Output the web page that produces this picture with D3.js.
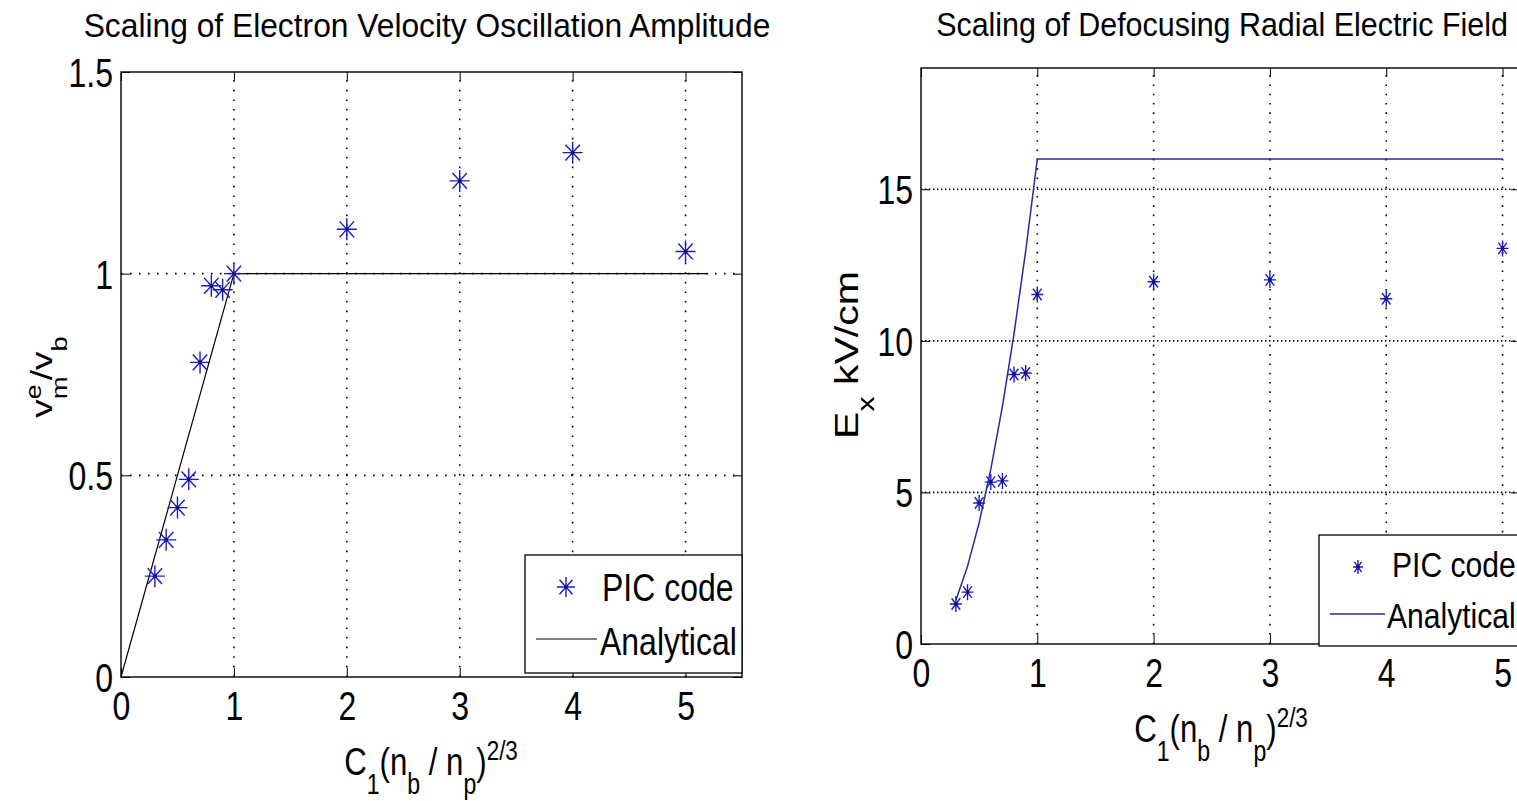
<!DOCTYPE html>
<html><head><meta charset="utf-8">
<script src="https://cdn.jsdelivr.net/npm/d3@7"></script>
<style>html,body{margin:0;padding:0;background:#fff;overflow:hidden}</style>
</head><body>
<svg id="c" width="1517" height="801"></svg>
<script>
// ---------------- data ----------------
const xTicks = [0, 1, 2, 3, 4, 5];
const xTickLabels = ["0", "1", "2", "3", "4", "5"];

const leftYTicks = [0, 0.5, 1, 1.5];
const leftYTickLabels = ["0", "0.5", "1", "1.5"];
const leftPicX = [0.3, 0.4, 0.5, 0.6, 0.7, 0.8, 0.9, 1, 2, 3, 4, 5];
const leftPicY = [0.25, 0.34, 0.42, 0.49, 0.78, 0.97, 0.96, 1.0, 1.11, 1.23, 1.30, 1.055];
const leftAnaX = [0, 1, 5.2];
const leftAnaY = [0, 1, 1];

const rightYTicks = [0, 5, 10, 15];
const rightYTickLabels = ["0", "5", "10", "15"];
const rightPicX = [0.3, 0.4, 0.5, 0.6, 0.7, 0.8, 0.9, 1, 2, 3, 4, 5];
const rightPicY = [1.32, 1.71, 4.65, 5.34, 5.38, 8.89, 8.94, 11.53, 11.95, 12.01, 11.39, 13.05];
const rightAnaX = [0.3, 0.4, 0.5, 0.6, 0.7, 0.8, 0.9, 1, 2, 3, 4, 5];
const rightAnaY = [1.44, 2.56, 4.0, 5.76, 7.84, 10.24, 12.96, 16, 16, 16, 16, 16];

const legendLabels = ["PIC code", "Analytical"];
const titles = ["Scaling of Electron Velocity Oscillation Amplitude", "Scaling of Defocusing Radial Electric Field"];

// ---------------- drawing ----------------
const FONT = "'Liberation Sans', Arial, Helvetica, sans-serif";
const svg = d3.select("#c");
const MARK = "#1c1cbc";

function measure(str, size) {
  const t = svg.append("text").attr("font-family", FONT).attr("font-size", size).text(str);
  const w = t.node().getComputedTextLength();
  t.remove();
  return w;
}

// parts: {t, sub, sup, stack, dx}
function richText(parent, x, y, size, sx, anchor, rotate, parts) {
  const g = parent.append("g")
    .attr("transform", `translate(${x},${y}) scale(${sx},1)` + (rotate ? " rotate(-90)" : ""));
  const t = g.append("text").attr("font-family", FONT).attr("font-size", size)
    .attr("text-anchor", anchor).attr("fill", "#000");
  let cur = 0;
  let back = 0;
  parts.forEach(p => {
    let off = 0, fs = size;
    if (p.sub) { off = 0.49 * size; fs = size * 0.74; }
    if (p.sup) { off = -0.38 * size; fs = size * 0.72; }
    const ts = t.append("tspan").attr("font-size", fs).attr("dy", off - cur).text(p.t);
    const dx = (p.dx || 0) - back;
    if (dx) ts.attr("dx", dx);
    back = p.stack ? measure(p.t, fs) : 0;
    cur = off;
  });
  return g;
}

function star(g, cx, cy, rx, ry) {
  const d = 0.72;
  g.append("path")
    .attr("d", `M${cx - rx},${cy}H${cx + rx}M${cx},${cy - ry}V${cy + ry}` +
      `M${cx - rx * d},${cy - ry * d}L${cx + rx * d},${cy + ry * d}` +
      `M${cx - rx * d},${cy + ry * d}L${cx + rx * d},${cy - ry * d}`)
    .attr("stroke", MARK).attr("stroke-width", 1.4).attr("fill", "none");
  g.append("circle").attr("cx", cx).attr("cy", cy).attr("r", 1.8).attr("fill", "#10108a");
}

function panel(p) {
  const x = d3.scaleLinear().domain(p.xDomain).range([p.left, p.right]);
  const y = d3.scaleLinear().domain(p.yDomain).range([p.bottom, p.top]);
  const g = svg.append("g");

  // grid
  g.selectAll(null).data(xTicks.filter(d => d > p.xDomain[0] && d < p.xDomain[1])).join("line")
    .attr("x1", d => x(d)).attr("x2", d => x(d)).attr("y1", p.bottom).attr("y2", p.top)
    .attr("stroke", "#000").attr("stroke-width", 1.6).attr("stroke-dasharray", p.vDash);
  g.selectAll(null).data(p.yTicks.filter(d => d > p.yDomain[0] && d < p.yDomain[1])).join("line")
    .attr("x1", p.left).attr("x2", p.right).attr("y1", d => y(d)).attr("y2", d => y(d))
    .attr("stroke", "#000").attr("stroke-width", 1.6).attr("stroke-dasharray", p.hDash);

  // analytical line
  const line = d3.line().x(d => x(d[0])).y(d => y(d[1]));
  g.append("path").datum(d3.zip(p.anaX, p.anaY)).attr("d", line)
    .attr("fill", "none").attr("stroke", p.lineColor).attr("stroke-width", p.lineWidth);

  // PIC markers
  d3.zip(p.picX, p.picY).forEach(d => star(g, x(d[0]), y(d[1]), p.mrx, p.mry));

  // box
  g.append("rect").attr("x", p.left).attr("y", p.top)
    .attr("width", p.right - p.left).attr("height", p.bottom - p.top)
    .attr("fill", "none").attr("stroke", "#000").attr("stroke-width", 1.4);

  const TL = 9, TF = 40, SX = 0.8;
  // bottom axis with labels
  const ax = g.append("g").attr("transform", `translate(0,${p.bottom})`)
    .call(d3.axisBottom(x).tickValues(xTicks).tickSize(-TL).tickFormat((d, i) => xTickLabels[i]));
  ax.select(".domain").remove();
  ax.attr("font-family", FONT).attr("font-size", TF).attr("color", "#000");
  ax.selectAll(".tick text").attr("y", 43).attr("dy", 0).attr("transform", `scale(${SX},1)`);
  // top ticks
  const at = g.append("g").attr("transform", `translate(0,${p.top})`)
    .call(d3.axisTop(x).tickValues(xTicks).tickSize(-TL).tickFormat(""));
  at.select(".domain").remove(); at.attr("color", "#000");
  // left axis with labels
  const al = g.append("g").attr("transform", `translate(${p.left},0)`)
    .call(d3.axisLeft(y).tickValues(p.yTicks).tickSize(-TL).tickFormat((d, i) => p.yTickLabels[i]));
  al.select(".domain").remove();
  al.attr("font-family", FONT).attr("font-size", TF).attr("color", "#000");
  al.selectAll(".tick text").attr("x", -8 / SX).attr("dy", 0).attr("y", 14.5).attr("transform", `scale(${SX},1)`);
  // right ticks
  const ar = g.append("g").attr("transform", `translate(${p.right},0)`)
    .call(d3.axisRight(y).tickValues(p.yTicks).tickSize(-TL).tickFormat(""));
  ar.select(".domain").remove(); ar.attr("color", "#000");

  // title (scaled to its measured width in the reference)
  const TS = 33;
  const natural = measure(p.title, TS);
  svg.append("g").attr("transform", `translate(${p.titleX},${p.titleY}) scale(${p.titleLen / natural},1)`)
    .append("text").attr("text-anchor", "middle")
    .attr("font-family", FONT).attr("font-size", TS).text(p.title);

  // x label
  richText(svg, p.xlabelX, p.bottom + 98, 39, 0.8, "middle", false, [
    { t: "C" }, { t: "1", sub: true }, { t: "(n" }, { t: "b", sub: true },
    { t: " / n" }, { t: "p", sub: true }, { t: ")" }, { t: "2/3", sup: true }]);
  // y label
  richText(svg, p.ylabelX, p.ylabelY, p.ylabelSize, 0.8, "middle", true, p.ylabelParts);

  // legend
  const L = p.legend;
  const lg = svg.append("g");
  lg.append("rect").attr("x", L.x).attr("y", L.y).attr("width", L.w).attr("height", L.h)
    .attr("fill", "#fff").attr("stroke", "#000").attr("stroke-width", 1.3);
  star(lg, L.mx, L.my, L.mrx, L.mry);
  lg.append("line").attr("x1", L.l1).attr("x2", L.l2).attr("y1", L.ly).attr("y2", L.ly)
    .attr("stroke", p.lineColor).attr("stroke-width", p.lineWidth);
  [[L.t1x, L.t1y, legendLabels[0]], [L.t2x, L.t2y, legendLabels[1]]].forEach(a => {
    lg.append("g").attr("transform", `translate(${a[0]},${a[1]}) scale(${L.sx},1)`)
      .append("text").attr("font-family", FONT).attr("font-size", L.fs).text(a[2]);
  });
}

panel({
  left: 121, right: 742, top: 72, bottom: 677,
  xDomain: [0, 5.5], yDomain: [0, 1.5],
  yTicks: leftYTicks, yTickLabels: leftYTickLabels,
  picX: leftPicX, picY: leftPicY, anaX: leftAnaX, anaY: leftAnaY,
  lineColor: "#000", lineWidth: 1.2, mrx: 10, mry: 11,
  vDash: "1.6,8", hDash: "1.6,7.4",
  title: titles[0], titleX: 427, titleY: 37, titleLen: 687,
  xlabelX: 431, ylabelX: 52, ylabelY: 377, ylabelSize: 37,
  ylabelParts: [{ t: "v" }, { t: "e", sup: true, stack: true }, { t: "m", sub: true }, { t: "/v", dx: -4 }, { t: "b", sub: true }],
  legend: { x: 525, y: 555, w: 217, h: 118, mx: 566, my: 587, mrx: 9, mry: 10,
    l1: 536, l2: 597, ly: 639, t1x: 602, t1y: 601, t2x: 600, t2y: 655, fs: 39, sx: 0.82 }
});

panel({
  left: 921, right: 1520, top: 68, bottom: 644,
  xDomain: [0, 5.15], yDomain: [0, 19],
  yTicks: rightYTicks, yTickLabels: rightYTickLabels,
  picX: rightPicX, picY: rightPicY, anaX: rightAnaX, anaY: rightAnaY,
  lineColor: "#2a2a9c", lineWidth: 1.5, mrx: 6, mry: 8,
  vDash: "1.6,7.7", hDash: "1.4,2.6",
  title: titles[1], titleX: 1222, titleY: 36, titleLen: 572,
  xlabelX: 1221, ylabelX: 858, ylabelY: 355, ylabelSize: 41,
  ylabelParts: [{ t: "E" }, { t: "x", sub: true }, { t: " kV/cm" }],
  legend: { x: 1319, y: 535, w: 201, h: 111, mx: 1358, my: 567, mrx: 5, mry: 7,
    l1: 1330, l2: 1385, ly: 614, t1x: 1392, t1y: 577, t2x: 1387, t2y: 628, fs: 35, sx: 0.86 }
});
</script>
</body></html>
